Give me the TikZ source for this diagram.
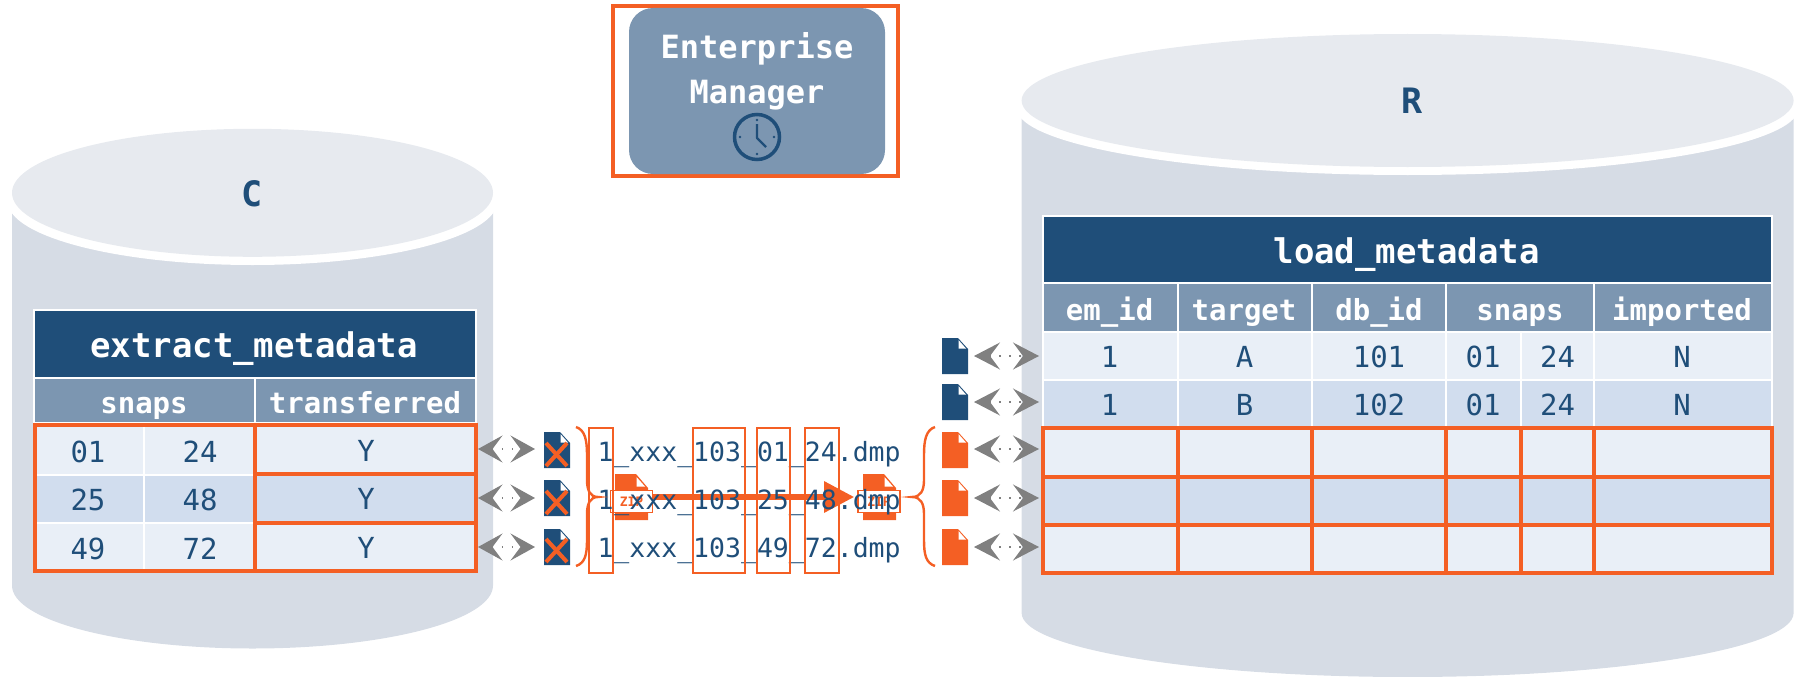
\documentclass[tikz,border=0pt]{standalone}
\usepackage{fontspec}
\usetikzlibrary{arrows.meta,calc}
\newfontfamily\monof{DejaVu Sans Mono}
\definecolor{navy}{HTML}{1F4E79}
\definecolor{headc}{HTML}{7C96B1}
\definecolor{rowa}{HTML}{E9EFF7}
\definecolor{rowb}{HTML}{D1DDEE}
\definecolor{cylb}{HTML}{D6DCE5}
\definecolor{cylt}{HTML}{E7EAEF}
\definecolor{hot}{HTML}{F45F24}
\definecolor{arrg}{HTML}{808080}
\newcommand{\fsz}[1]{\fontsize{#1}{#1}\selectfont\monof}
\newcommand{\fsb}[1]{\fontsize{#1}{#1}\selectfont\monof\bfseries}
\newcommand{\cellbox}[5]{\fill[#5,draw=white,line width=2pt] (#1,#2) rectangle (#3,#4);}
\newcommand{\docicon}[3]{% left x, top y, colour
  \fill[#3] (#1,#2) -- ++(16,0) -- ++(10,11) -- ++(0,25) -- ++(-26,0) -- cycle;
  \fill[white] ($(#1,#2)+(16.5,2)$) -- ++(7.5,8.5) -- ++(-7.5,0) -- cycle;}
\newcommand{\crossmark}[2]{%
  \draw[hot,line width=4pt] ($(#1,#2)+(-10.5,-11.5)$) -- ++(21,23) ($(#1,#2)+(10.5,-11.5)$) -- ++(-21,23);}
\tikzset{
  tbase/.style={anchor=base,inner sep=0pt,outer sep=0pt,text=navy},
  ttitle/.style={tbase,text=white,font=\fsb{34}},
  thead/.style={tbase,text=white,font=\fsb{29}},
  tcell/.style={tbase,font=\fsz{29}},
  tfile/.style={anchor=base west,inner sep=0pt,outer sep=0pt,text=navy,font=\fsz{26.5}},
  tcyl/.style={tbase,font=\fsb{35}},
  hotline/.style={draw=hot,line width=4pt},
  hotthin/.style={draw=hot,line width=2.4pt},
  zipbox/.style={draw=hot,fill=white,line width=1.6pt,minimum width=42pt,minimum height=22pt,inner sep=0pt,text=hot,font=\fsb{13}},
  bothways/.style={arrg,line width=1.5pt,dash pattern=on 1.5pt off 8.5pt,
    {Stealth[length=#1,width=27pt,inset=10pt,color=arrg]}-{Stealth[length=#1,width=27pt,inset=10pt,color=arrg]}},
}
\begin{document}
\begin{tikzpicture}[x=1pt,y=-1pt]
\useasboundingbox (0,0) rectangle (1799,677);
% left cylinder
\fill[cylb] (12,201) -- (12,585.5) arc[start angle=180,end angle=360,x radius=240.5pt,y radius=63pt] -- (493,201) -- cycle;
\fill[white] (252.5,201) ellipse[x radius=245pt,y radius=64pt];
\fill[cylt] (252.5,192.8) ellipse[x radius=240.5pt,y radius=64pt];
\node[tcyl] (cC) at (252,206) {C};
% right cylinder
\fill[cylb] (1021.6,108) -- (1021.6,613) arc[start angle=180,end angle=360,x radius=386pt,y radius=64pt] -- (1793.6,108) -- cycle;
\fill[white] (1407.6,108) ellipse[x radius=391pt,y radius=67pt];
\fill[cylt] (1407.6,100.5) ellipse[x radius=386pt,y radius=66.5pt];
\node[tcyl] (cR) at (1411.6,113) {R};
% EM
\draw[hot,line width=4pt] (612.5,6) rectangle (897.5,176);
\fill[headc,rounded corners=24pt] (629,8) rectangle (885,174);
\node[thead,font=\fsb{32}] (em1) at (757,59) {Enterprise};
\node[thead,font=\fsb{32}] (em2) at (757,103) {Manager};
\draw[navy,line width=3.5pt] (757,137) circle[radius=22.5pt];
\draw[navy,line width=2.2pt,line join=round] (757,124) -- (757,138) -- (766,147);
\foreach \dx/\dy in {0/-17,0/17,-17/0,17/0}{\fill[navy] (757+\dx,137+\dy) circle[radius=1.3pt];}
% left table
\fill[white] (33,309) rectangle (477,573);
\cellbox{34}{310}{476}{378}{navy}
\cellbox{34}{378}{254.5}{423}{headc}
\cellbox{254.5}{378}{476}{423}{headc}
\cellbox{34}{424}{144}{475}{rowa}
\cellbox{144}{424}{254}{475}{rowa}
\cellbox{34}{475}{144}{523}{rowb}
\cellbox{144}{475}{254}{523}{rowb}
\cellbox{34}{523}{144}{571}{rowa}
\cellbox{144}{523}{254}{571}{rowa}
\fill[rowa] (255,424.5) rectangle (476,473.5);
\fill[rowb] (255,473.5) rectangle (476,522.5);
\fill[rowa] (255,522.5) rectangle (476,571);
\draw[hotline] (34.5,424.5) rectangle (255,571);
\draw[hotline] (255,424.5) rectangle (476,473.5);
\draw[hotline] (255,473.5) rectangle (476,522.5);
\draw[hotline] (255,522.5) rectangle (476,571);
\node[ttitle] (lt) at (254,357) {extract\_metadata};
\node[thead] (lh1) at (144,413) {snaps};
\node[thead] (lh2) at (365,413) {transferred};
\foreach \n/\a/\b/\yy/\yb in {1/01/24/462/461,2/25/48/510/509,3/49/72/559/558}{
  \node[tcell] (la\n) at (88,\yy) {\a};
  \node[tcell] (lb\n) at (200,\yy) {\b};
  \node[tcell] (lc\n) at (366,\yb) {Y};
}
% right table
\fill[white] (1042,215) rectangle (1773,574);
\cellbox{1043}{216}{1771.5}{283}{navy}
\foreach \xa/\xb in {1043/1177.5,1177.5/1312,1312/1446.3,1446.3/1594,1594/1771.5}{
  \cellbox{\xa}{283}{\xb}{332}{headc}
}
\foreach \xa/\xb in {1043/1177.5,1177.5/1312,1312/1446.3,1446.3/1520.5,1520.5/1594,1594/1771.5}{
  \cellbox{\xa}{332}{\xb}{380}{rowa}
  \cellbox{\xa}{380}{\xb}{428}{rowb}
  \fill[rowa] (\xa,428) rectangle (\xb,477);
  \fill[rowb] (\xa,477) rectangle (\xb,525);
  \fill[rowa] (\xa,525) rectangle (\xb,573);
  \draw[hotline] (\xa,428) rectangle (\xb,477);
  \draw[hotline] (\xa,477) rectangle (\xb,525);
  \draw[hotline] (\xa,525) rectangle (\xb,573);
}
\node[ttitle] (rt) at (1406.6,263) {load\_metadata};
\node[thead] (rh1) at (1109.6,320) {em\_id};
\node[thead] (rh2) at (1244,320) {target};
\node[thead] (rh3) at (1379,320) {db\_id};
\node[thead] (rh4) at (1520,320) {snaps};
\node[thead] (rh5) at (1682,320) {imported};
\foreach \n/\t/\d/\yy in {1/A/101/367,2/B/102/415}{
  \node[tcell] (ra\n) at (1109.6,\yy) {1};
  \node[tcell] (rb\n) at (1244.5,\yy) {\t};
  \node[tcell] (rc\n) at (1379,\yy) {\d};
  \node[tcell] (rd\n) at (1483,\yy) {01};
  \node[tcell] (re\n) at (1557.6,\yy) {24};
  \node[tcell] (rf\n) at (1682,\yy) {N};
}
% zip icons
\fill[hot] (615,474) -- (636,474) -- (648,488) -- (648,520) -- (615,520) -- cycle;
\fill[white] (636.5,477) -- (645,486.5) -- (636.5,486.5) -- cycle;
\fill[hot] (863,474) -- (884,474) -- (896,488) -- (896,520) -- (863,520) -- cycle;
\fill[white] (884.5,477) -- (893,486.5) -- (884.5,486.5) -- cycle;
\node[zipbox] (zipL) at (631.5,501.5) {ZIP};
\node[zipbox] (zipR) at (879,501.5) {ZIP};
\draw[hot,line width=6pt,-{Triangle[length=30pt,width=30pt]}] ([yshift=4.5pt]zipL.east) -- ([yshift=4.5pt,xshift=-3pt]zipR.west);
% file names
\node[tfile] (f1) at (597.5,461) {1\_xxx\_103\_01\_24.dmp};
\node[tfile] (f2) at (597.5,509) {1\_xxx\_103\_25\_48.dmp};
\node[tfile] (f3) at (597.5,557) {1\_xxx\_103\_49\_72.dmp};
\draw[hotthin] (589,428) rectangle (613,573);
\draw[hotthin] (693,428) rectangle (745,573);
\draw[hotthin] (757,428) rectangle (790,573);
\draw[hotthin] (805,428) rectangle (839,573);
% braces
\draw[hotthin] (576,427) .. controls (585,430) and (587,440) .. (587,455) -- (587,480) .. controls (587,490) and (590,497) .. (598,497) .. controls (590,497) and (587,504) .. (587,514) -- (587,540) .. controls (587,555) and (585,563) .. (576,566);
\draw[hotthin] (935,427) .. controls (926,430) and (924,440) .. (924,455) -- (924,480) .. controls (924,490) and (921,497) .. (912,497) .. controls (921,497) and (924,504) .. (924,514) -- (924,540) .. controls (924,555) and (926,563) .. (935,566);
% doc icons
\docicon{544}{432}{navy}\crossmark{556.5}{454.5}
\docicon{544}{480}{navy}\crossmark{556.5}{502.5}
\docicon{544}{529}{navy}\crossmark{556.5}{550.5}
\docicon{942}{338}{navy}
\docicon{942}{384}{navy}
\docicon{942}{432}{hot}
\docicon{942}{480}{hot}
\docicon{942}{529}{hot}
% double arrows
\foreach \n/\yy in {1/449,2/498,3/547}{
  \coordinate (pa\n) at (478,\yy);
  \coordinate (pb\n) at (535,\yy);
  \draw[bothways=24.5pt] (pa\n) -- (pb\n);
}
\foreach \n/\yy in {1/356,2/402,3/449,4/498,5/547}{
  \coordinate (qa\n) at (974,\yy);
  \coordinate (qb\n) at (1039,\yy);
  \draw[bothways=26pt] (qa\n) -- (qb\n);
}
\end{tikzpicture}
\end{document}
